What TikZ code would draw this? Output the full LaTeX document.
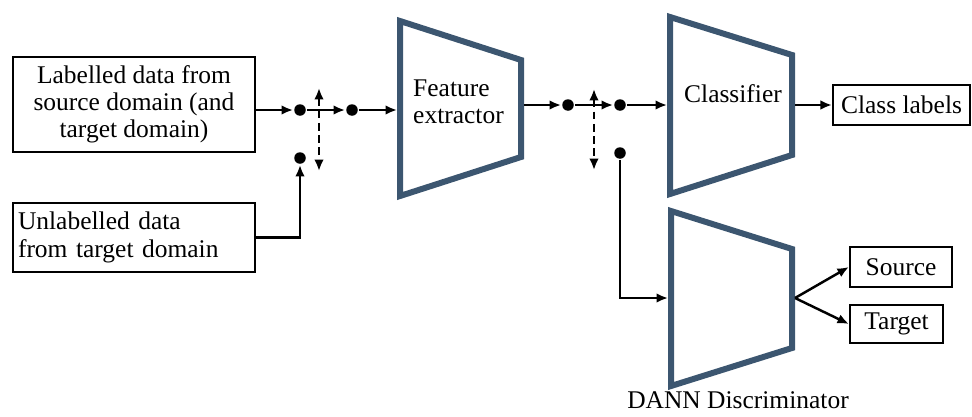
\documentclass[tikz,border=0pt]{standalone}
\usepackage{fontspec}
\setmainfont{Liberation Serif}
\usetikzlibrary{positioning}
\usetikzlibrary{arrows,arrows.meta}

\definecolor{netblue}{RGB}{60,86,112}

\tikzset{
  block/.style={draw, line width=1.3pt, inner sep=0pt, align=center, font=\fontsize{14.5}{15.5}\selectfont},
  net/.style={draw=netblue, line width=0.12cm, line join=miter},
  dot/.style={circle, fill, inner sep=0pt, minimum size=0.23cm},
  switch/.style={<->, dash pattern=on 4.5pt off 2.5pt},
  lbl/.style={font=\fontsize{14.5}{15.5}\selectfont, align=left, inner sep=0pt},
}

\begin{document}
\begin{tikzpicture}[x=0.02cm, y=-0.02cm, >={Latex[length=6.5pt,width=5.5pt]}, line width=1.4pt]
    \useasboundingbox (0,0) rectangle (972,416);

    % data
    \node[block, minimum width=4.84cm, minimum height=1.9cm] (lab) at (134,104.5) {Labelled data from\\source domain (and\\target domain)};
    \node[block, minimum width=4.84cm, minimum height=1.38cm, text width=4.64cm, align=left] (unlab) at (134,237.5) {Unlabelled data\\from target domain};

    % networks
    \draw[net] (400,21) -- (521,60) -- (521,157) -- (400,196) -- cycle;
    \node[lbl, anchor=west] (fe) at (412,102) {Feature\\extractor};
    \draw[net] (670,17) -- (792,55) -- (792,155) -- (670,194) -- cycle;
    \node[lbl] (cls) at (733,94) {Classifier};
    \draw[net] (671,211) -- (792,249) -- (792,348) -- (671,386) -- cycle;
    \node[lbl] (dann) at (738,400) {DANN Discriminator};

    \coordinate (fe-in) at (397,110);
    \coordinate (fe-out) at (524,105);
    \coordinate (cls-in) at (667,105);
    \coordinate (cls-out) at (795,105);
    \coordinate (dis-in) at (668,298);
    \coordinate (dis-out) at (795,298);

    % outputs
    \node[block, minimum width=2.74cm, minimum height=0.8cm] (labels) at (901.5,105) {Class labels};
    \node[block, minimum width=2.04cm, minimum height=0.8cm] (src) at (901,267) {Source};
    \node[block, minimum width=1.86cm, minimum height=0.76cm] (tgt) at (896.5,324) {Target};

    % switches
    \node[dot] (d1) at (300,110) {};
    \node[dot] (d2) at (352,110) {};
    \node[dot] (d3) at (300,158) {};
    \node[dot] (d4) at (568,105) {};
    \node[dot] (d5) at (620,105) {};
    \node[dot] (d6) at (620,153) {};
    \coordinate (sw1-a) at (319,88);
    \coordinate (sw1-b) at (319,171);
    \coordinate (sw2-a) at (594,89);
    \coordinate (sw2-b) at (594,170);

    \draw[->] (lab.east |- d1) -- (d1);
    \draw[->] (d1) -- (d2);
    \draw[->] (d2) -- (fe-in);
    \draw[->] (unlab.east) -| (d3);
    \draw[switch] (sw1-a) -- (sw1-b);

    \draw[->] (fe-out) -- (d4);
    \draw[->] (d4) -- (d5);
    \draw[->] (d5) -- (cls-in);
    \draw[->] (d6) |- (dis-in);
    \draw[switch] (sw2-a) -- (sw2-b);

    \draw[->] (cls-out) -- (labels.west);
    \draw[->] (dis-out) -- (src.west);
    \draw[->] (dis-out) -- (tgt.west);
\end{tikzpicture}
\end{document}
